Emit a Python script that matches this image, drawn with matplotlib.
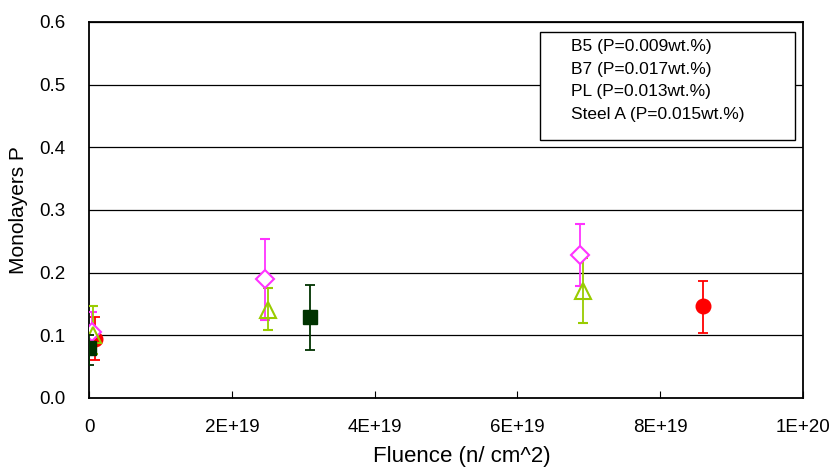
import matplotlib
matplotlib.use("Agg")
import matplotlib.pyplot as plt
from matplotlib.patches import Rectangle

plt.rcParams['font.family'] = ['Liberation Sans', 'DejaVu Sans']

# B5 - pink open diamonds
b5_x = [0.04e19, 2.46e19, 6.88e19]
b5_y = [0.106, 0.190, 0.228]
b5_lo = [0.080, 0.125, 0.179]
b5_hi = [0.137, 0.254, 0.277]

# B7 - yellow-green open triangles
b7_x = [0.05e19, 2.51e19, 6.92e19]
b7_y = [0.100, 0.140, 0.170]
b7_lo = [0.070, 0.109, 0.120]
b7_hi = [0.147, 0.176, 0.224]

# PL - red filled circles
pl_x = [0.09e19, 8.60e19]
pl_y = [0.094, 0.146]
pl_lo = [0.060, 0.104]
pl_hi = [0.130, 0.187]

# Steel A - dark green squares
sa_x = [0.0, 3.10e19]
sa_y = [0.080, 0.129]
sa_lo = [0.053, 0.077]
sa_hi = [0.100, 0.181]

labels = ["B5 (P=0.009wt.%)", "B7 (P=0.017wt.%)",
          "PL (P=0.013wt.%)", "Steel A (P=0.015wt.%)"]

xticks = [0, 2e19, 4e19, 6e19, 8e19, 1e20]
xtick_labels = ["0", "2E+19", "4E+19", "6E+19", "8E+19", "1E+20"]
yticks = [0.0, 0.1, 0.2, 0.3, 0.4, 0.5, 0.6]


def errs(y, lo, hi):
    return [[a - b for a, b in zip(y, lo)], [c - a for a, c in zip(y, hi)]]


fig = plt.figure(figsize=(8.35, 4.67), dpi=100)
ax = fig.add_axes([0.1066, 0.1478, 0.8551, 0.8051])

for yv in yticks[1:]:
    ax.axhline(yv, color="black", lw=0.9, zorder=0)

eb = dict(elinewidth=1.3, capsize=3.5, capthick=1.3)
ax.errorbar(b5_x, b5_y, yerr=errs(b5_y, b5_lo, b5_hi), fmt="D", ms=9,
            mfc="white", mec="#FF33FF", mew=1.5, ecolor="#FF33FF",
            zorder=3, **eb)
ax.errorbar(b7_x, b7_y, yerr=errs(b7_y, b7_lo, b7_hi), fmt="^", ms=11,
            mfc="none", mec="#99CC00", mew=1.5, ecolor="#99CC00",
            zorder=3, **eb)
ax.errorbar(pl_x, pl_y, yerr=errs(pl_y, pl_lo, pl_hi), fmt="o", ms=10.5,
            mfc="#FF0000", mec="#FF0000", ecolor="#FF0000",
            zorder=2, **eb)
ax.errorbar(sa_x, sa_y, yerr=errs(sa_y, sa_lo, sa_hi), fmt="s", ms=10.5,
            mfc="#003300", mec="#003300", ecolor="#003300",
            zorder=4, **eb)

ax.set_xlim(0, 1e20)
ax.set_ylim(0, 0.6)
ax.set_xticks(xticks)
ax.set_xticklabels(xtick_labels)
ax.set_yticks(yticks)
ax.set_yticklabels(["%.1f" % v for v in yticks])
ax.tick_params(axis="x", direction="in", length=5, labelsize=13.5, pad=15)
ax.tick_params(axis="y", length=0, labelsize=13.5, pad=17)
for s in ax.spines.values():
    s.set_linewidth(1.3)

ax.set_xlabel("Fluence (n/ cm^2)", fontsize=16)
ax.xaxis.set_label_coords(0.5224, -0.128)
ax.set_ylabel("Monolayers P", fontsize=15)
ax.yaxis.set_label_coords(-0.085, 0.5)

# legend box with text only
ax.add_patch(Rectangle((0.632, 0.686), 0.357, 0.287, transform=ax.transAxes,
                       fc="white", ec="black", lw=1.0, zorder=6))
for i, lab in enumerate(labels):
    ax.text(0.675, 0.935 - i * 0.0605, lab, transform=ax.transAxes,
            fontsize=12.5, va="center", ha="left", zorder=7)

fig.savefig("out.png", dpi=100)
